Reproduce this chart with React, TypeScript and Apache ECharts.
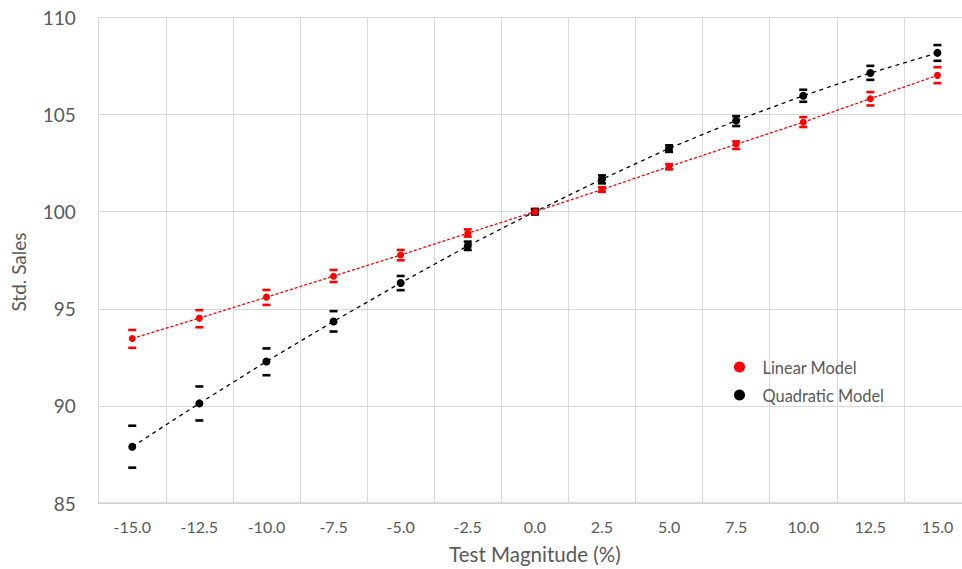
import React, { useEffect, useRef } from "react";
import * as echarts from "echarts";

const categories = ["-15.0", "-12.5", "-10.0", "-7.5", "-5.0", "-2.5", "0.0", "2.5", "5.0", "7.5", "10.0", "12.5", "15.0"];

const linearValues = [93.47, 94.52, 95.6, 96.68, 97.77, 98.89, 100.0, 101.14, 102.32, 103.47, 104.61, 105.82, 107.02];
const linearUpper = [93.91, 94.93, 95.97, 97.0, 98.03, 99.09, 100.15, 101.26, 102.45, 103.62, 104.87, 106.16, 107.44];
const linearLower = [92.99, 94.05, 95.2, 96.38, 97.5, 98.72, 99.85, 101.02, 102.18, 103.23, 104.36, 105.47, 106.62];

const quadraticValues = [87.9, 90.13, 92.29, 94.35, 96.33, 98.24, 100.0, 101.67, 103.26, 104.69, 105.97, 107.14, 108.18];
const quadraticUpper = [88.98, 91.0, 92.96, 94.88, 96.69, 98.46, 100.12, 101.87, 103.42, 104.92, 106.28, 107.51, 108.58];
const quadraticLower = [86.82, 89.25, 91.58, 93.83, 95.96, 98.03, 99.88, 101.46, 103.08, 104.41, 105.66, 106.79, 107.77];

const yTicks = { min: 85, max: 110, interval: 5 };

const FONT = "Lato, 'Open Sans', sans-serif";
const TEXT = "#595959";
const GRID = "#d9d9d9";

export default function App() {
  const ref = useRef<HTMLDivElement>(null);
  useEffect(() => {
    document.body.style.margin = "0";
    document.body.style.overflow = "hidden";
    if (!ref.current) return;
    const chart = echarts.init(ref.current, null, { renderer: "svg" });
    const capSeries = (name: string, data: number[], color: string) => ({
      name,
      type: "scatter",
      data,
      symbol: "rect",
      symbolSize: [8, 2.6],
      itemStyle: { color, opacity: 1 },
      z: 4,
      silent: true,
    });
    chart.setOption({
      animation: false,
      backgroundColor: "#ffffff",
      textStyle: { fontFamily: FONT },
      grid: { left: 98.7, top: 17.5, bottom: 65, right: 0, containLabel: false },
      legend: {
        orient: "vertical",
        left: 729,
        top: 354,
        itemWidth: 36,
        itemHeight: 11,
        itemGap: 12,
        icon: "circle",
        textStyle: { fontSize: 16.4, color: TEXT, fontFamily: FONT },
        data: ["Linear Model", "Quadratic Model"],
      },
      xAxis: {
        type: "category",
        data: categories,
        boundaryGap: true,
        axisLine: { show: true, lineStyle: { color: "#cfcfcf", width: 1.5 } },
        axisTick: { show: false },
        axisLabel: { fontSize: 16, color: TEXT, margin: 15, fontFamily: FONT },
        splitLine: { show: true, lineStyle: { color: GRID, width: 1 } },
        name: "Test Magnitude (%)",
        nameLocation: "middle",
        nameGap: 40,
        nameTextStyle: { fontSize: 20.5, color: TEXT, fontFamily: FONT },
      },
      yAxis: {
        type: "value",
        min: yTicks.min,
        max: yTicks.max,
        interval: yTicks.interval,
        axisLine: { show: false },
        axisTick: { show: false },
        axisLabel: { fontSize: 19, color: TEXT, margin: 23, fontFamily: FONT },
        splitLine: { show: true, lineStyle: { color: GRID, width: 1 } },
      },
      graphic: [
        {
          type: "text",
          x: 18,
          y: 272,
          rotation: Math.PI / 2,
          style: {
            text: "Std. Sales",
            fontSize: 19,
            fill: TEXT,
            fontFamily: FONT,
            align: "center",
            verticalAlign: "middle",
          },
        },
      ],
      series: [
        {
          name: "Linear Trend",
          type: "line",
          data: linearValues,
          symbol: "none",
          lineStyle: { color: "#ff0000", width: 1.3, type: [3, 2] },
          z: 2,
          silent: true,
        },
        {
          name: "Quadratic Trend",
          type: "line",
          data: quadraticValues,
          symbol: "none",
          lineStyle: { color: "#000000", width: 1.3, type: [4, 4] },
          z: 2,
          silent: true,
        },
        capSeries("Linear Upper", linearUpper, "#ff0000"),
        capSeries("Linear Lower", linearLower, "#ff0000"),
        capSeries("Quadratic Upper", quadraticUpper, "#000000"),
        capSeries("Quadratic Lower", quadraticLower, "#000000"),
        {
          name: "Quadratic Model",
          type: "scatter",
          data: quadraticValues,
          symbol: "circle",
          symbolSize: 8,
          itemStyle: { color: "#000000", opacity: 1 },
          z: 5,
        },
        {
          name: "Linear Model",
          type: "scatter",
          data: linearValues,
          symbol: "circle",
          symbolSize: 7,
          itemStyle: { color: "#ff0000", opacity: 1 },
          z: 6,
        },
      ],
    });
    return () => chart.dispose();
  }, []);
  return (
    <div style={{ width: 962, height: 569, overflow: "hidden", position: "relative" }}>
      <div ref={ref} style={{ width: 971, height: 569 }} />
    </div>
  );
}
